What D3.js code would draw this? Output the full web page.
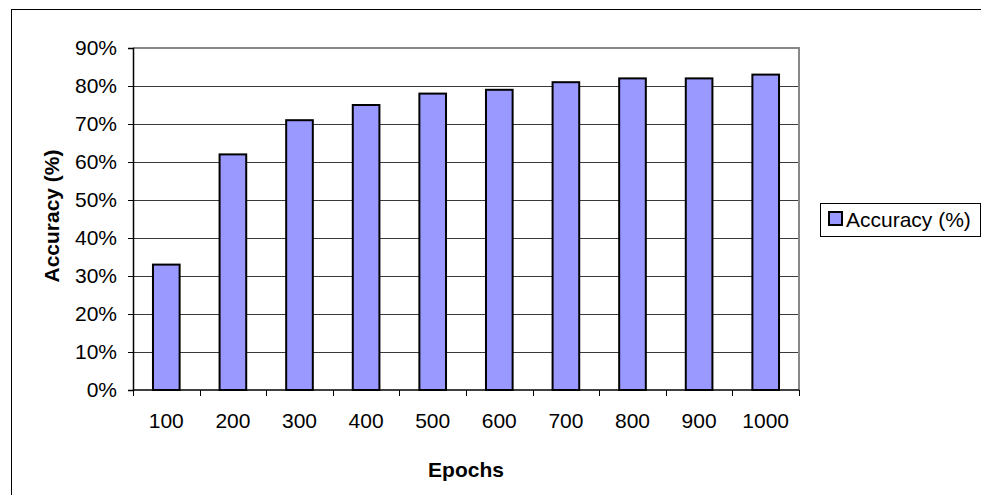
<!DOCTYPE html>
<html>
<head>
<meta charset="utf-8">
<script src="https://cdn.jsdelivr.net/npm/d3@7"></script>
<style>
  html, body { margin: 0; padding: 0; background: #fff; }
  svg { display: block; font-family: "Liberation Sans", Arial, sans-serif; }
</style>
</head>
<body>
<svg id="chart" width="981" height="495"></svg>
<script>
// data
const epochs = ['100', '200', '300', '400', '500', '600', '700', '800', '900', '1000'];
const accuracy = [33, 62, 71, 75, 78, 79, 81, 82, 82, 83];
const yTicks = [0, 10, 20, 30, 40, 50, 60, 70, 80, 90];
const seriesName = 'Accuracy (%)';

const barFill = '#9999FF';
const fontSize = 21;

const svg = d3.select('#chart');

// outer frame (runs off the right and bottom)
svg.append('rect')
  .attr('x', 11.5).attr('y', 9.5)
  .attr('width', 1000).attr('height', 600)
  .attr('fill', '#fff')
  .attr('stroke', '#000')
  .attr('stroke-width', 1);

const plot = {left: 133, right: 799, top: 48, bottom: 390};

const x = d3.scaleBand()
  .domain(epochs)
  .range([plot.left, plot.right]);

const y = d3.scaleLinear()
  .domain([0, 90])
  .range([plot.bottom, plot.top]);

const g = svg.append('g');

// gridlines
g.selectAll('line.grid')
  .data(yTicks.filter(d => d > 0 && d < 90))
  .enter().append('line')
  .attr('class', 'grid')
  .attr('x1', plot.left).attr('x2', plot.right)
  .attr('y1', d => Math.round(y(d)) + 0.5)
  .attr('y2', d => Math.round(y(d)) + 0.5)
  .attr('stroke', '#3a3a3a')
  .attr('stroke-width', 1.2);

// plot border: top and right in gray
g.append('path')
  .attr('d', `M${plot.left},${plot.top}H${plot.right}V${plot.bottom}`)
  .attr('fill', 'none')
  .attr('stroke', '#888')
  .attr('stroke-width', 2);

// bars
const barW = x.bandwidth() / 2.5;
g.selectAll('rect.bar')
  .data(accuracy)
  .enter().append('rect')
  .attr('class', 'bar')
  .attr('x', (d, i) => x(epochs[i]) + (x.bandwidth() - barW) / 2)
  .attr('y', d => y(d))
  .attr('width', barW)
  .attr('height', d => y(0) - y(d))
  .attr('fill', barFill)
  .attr('stroke', '#000')
  .attr('stroke-width', 2);

// y axis
const yAxis = d3.axisLeft(y)
  .tickValues(yTicks)
  .tickFormat(d => d + '%')
  .tickSize(5)
  .tickPadding(11);
const ya = svg.append('g')
  .attr('transform', `translate(${plot.left},0)`)
  .call(yAxis);
ya.select('.domain').attr('stroke', '#000').attr('stroke-width', 1.5);
ya.selectAll('.tick line').attr('stroke', '#000');
ya.selectAll('.tick text')
  .attr('font-size', fontSize)
  .attr('font-family', '"Liberation Sans", Arial, sans-serif')
  .attr('fill', '#000');

// x axis: ticks on the category boundaries
const xa = svg.append('g')
  .attr('transform', `translate(0,${plot.bottom})`);
xa.append('line')
  .attr('x1', plot.left).attr('x2', plot.right)
  .attr('stroke', '#000').attr('stroke-width', 1.5);
const bounds = epochs.map(d => x(d)).concat([x(epochs[epochs.length - 1]) + x.bandwidth()]);
xa.selectAll('line.tk')
  .data(bounds)
  .enter().append('line')
  .attr('class', 'tk')
  .attr('x1', d => Math.round(d) + 0.5).attr('x2', d => Math.round(d) + 0.5)
  .attr('y1', 0).attr('y2', 6)
  .attr('stroke', '#000');
xa.selectAll('text')
  .data(epochs)
  .enter().append('text')
  .attr('x', d => x(d) + x.bandwidth() / 2)
  .attr('y', 38)
  .attr('text-anchor', 'middle')
  .attr('font-size', fontSize)
  .text(d => d);

// axis titles
svg.append('text')
  .attr('x', (plot.left + plot.right) / 2)
  .attr('y', 477)
  .attr('text-anchor', 'middle')
  .attr('font-size', fontSize)
  .attr('font-weight', 'bold')
  .text('Epochs');

svg.append('text')
  .attr('transform', 'translate(59,216)rotate(-90)')
  .attr('text-anchor', 'middle')
  .attr('font-size', fontSize)
  .attr('font-weight', 'bold')
  .text('Accuracy (%)');

// legend
const legend = svg.append('g');
legend.append('rect')
  .attr('x', 820.5).attr('y', 203.5)
  .attr('width', 160).attr('height', 33)
  .attr('fill', '#fff')
  .attr('stroke', '#000');
legend.append('rect')
  .attr('x', 829).attr('y', 212)
  .attr('width', 13).attr('height', 13)
  .attr('fill', barFill)
  .attr('stroke', '#000')
  .attr('stroke-width', 2);
legend.append('text')
  .attr('x', 846)
  .attr('y', 227)
  .attr('font-size', fontSize)
  .text(seriesName);
</script>
</body>
</html>
